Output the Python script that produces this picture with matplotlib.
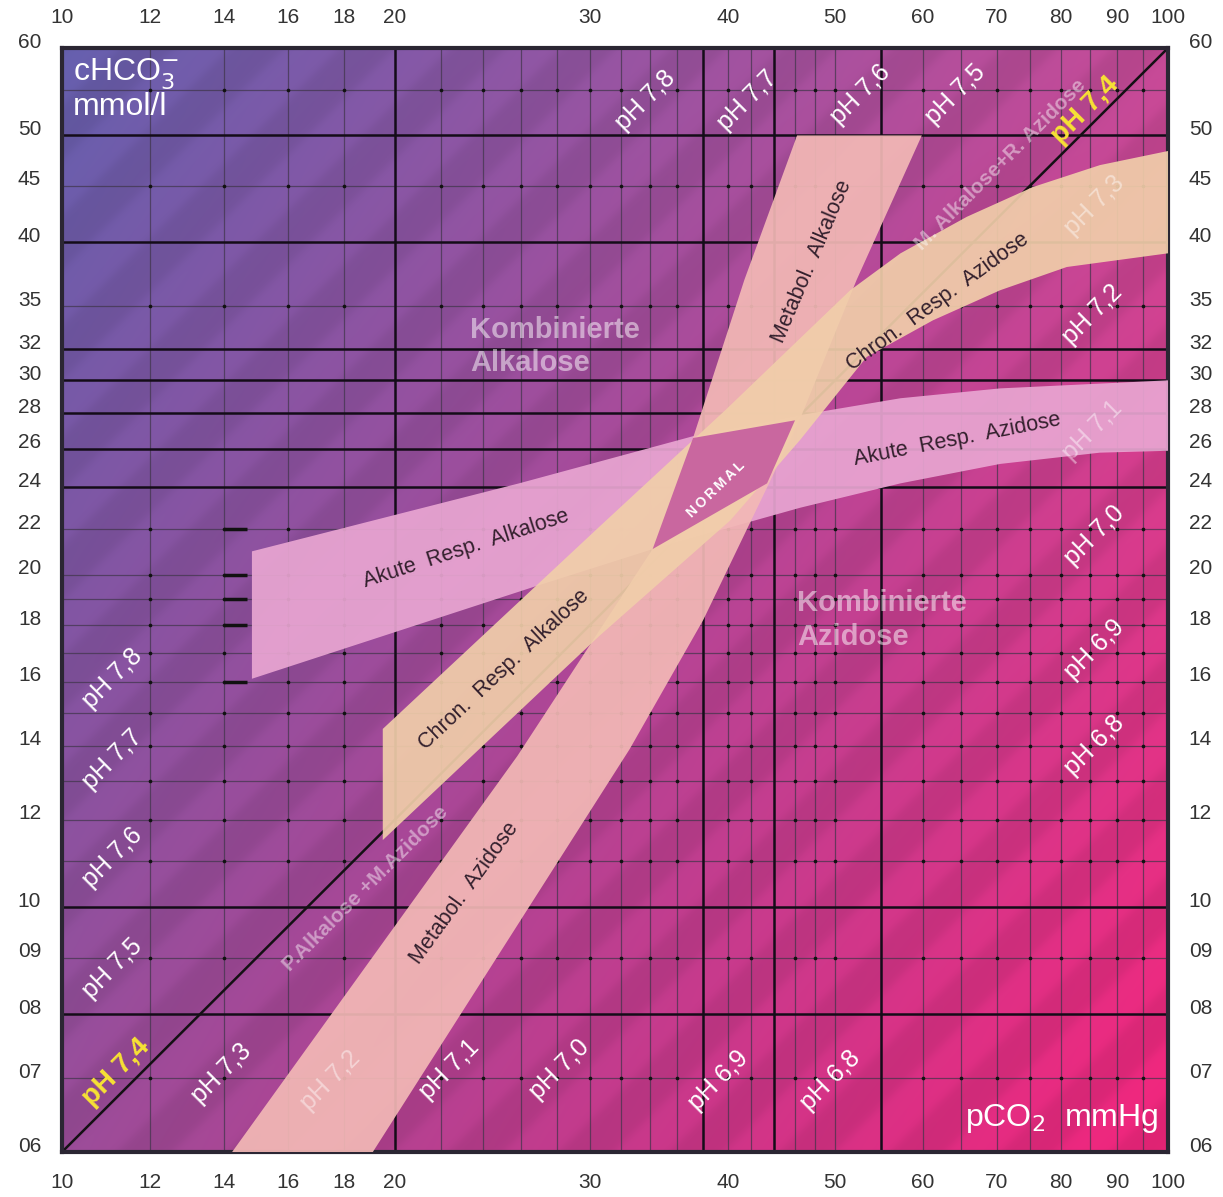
import numpy as np
import matplotlib.pyplot as plt
from matplotlib import transforms

plt.rcParams['font.family'] = ['Liberation Sans Narrow', 'Liberation Sans', 'DejaVu Sans']
plt.rcParams['mathtext.fontset'] = 'custom'
plt.rcParams['mathtext.rm'] = 'Liberation Sans Narrow'
plt.rcParams['mathtext.it'] = 'Liberation Sans Narrow'

# Axis ticks (pCO2 in mmHg, cHCO3 in mmol/l)
x_ticks = [10, 12, 14, 16, 18, 20, 30, 40, 50, 60, 70, 80, 90, 100]
y_ticks = [60, 50, 45, 40, 35, 32, 30, 28, 26, 24, 22, 20, 18, 16, 14, 12, 10, 9, 8, 7, 6]
y_tick_labels = ['60', '50', '45', '40', '35', '32', '30', '28', '26', '24', '22', '20',
                 '18', '16', '14', '12', '10', '09', '08', '07', '06']

# Grid lines
x_grid_thin = [12, 14, 16, 18, 22, 24, 26, 28, 30, 32, 34, 36, 40, 42, 46, 48, 50,
               60, 65, 70, 75, 80, 85, 90, 95]
x_grid_bold = [20, 38, 44, 55]
y_grid_thin = [55, 45, 35, 22, 20, 19, 18, 17, 16, 15, 14, 13, 12, 11, 9, 7]
y_grid_bold = [50, 40, 32, 30, 28, 26, 24, 10, 8]
dash_y = [22, 20, 19, 18, 16]

# pH 7,4 iso line
ph74_x = [10, 100]
ph74_y = [6, 60]

# Acute respiratory band (alkalosis left of normal, acidosis right of it)
acute_up_x = [14.85, 25.9, 37.2, 46.5, 57.3, 70.5, 100]
acute_up_y = [21.0, 24.2, 26.7, 27.9, 28.9, 29.5, 30.0]
acute_lo_x = [14.85, 26.7, 34.2, 46.5, 57.3, 70.5, 86.8, 100]
acute_lo_y = [16.1, 19.5, 21.1, 23.0, 24.2, 25.2, 25.8, 25.9]

# Chronic respiratory band
chron_up_x = [19.5, 30.6, 39.8, 51.6, 57.3, 65.8, 75.5, 86.8, 100]
chron_up_y = [14.5, 22.1, 28.2, 36.2, 39.1, 42.2, 44.9, 47.0, 48.4]
chron_lo_x = [19.5, 30.6, 40.2, 46.5, 53.4, 61.3, 70.5, 81.0, 100]
chron_lo_y = [11.5, 17.6, 22.4, 26.5, 31.5, 34.0, 36.2, 38.0, 39.1]

# Metabolic band
metab_left_x = [14.25, 25.8, 34.2, 37.2, 41.4, 46.2]
metab_left_y = [6.0, 13.7, 21.1, 26.6, 37.0, 50.0]
metab_right_x = [19.1, 32.6, 38.0, 46.5, 52.3, 59.9]
metab_right_y = [6.0, 13.9, 18.2, 27.7, 37.0, 50.0]

# Normal area
normal_x = [37.2, 46.0, 43.4, 34.2]
normal_y = [26.6, 27.6, 24.2, 21.1]

# pH labels: text, pCO2, HCO3
ph_labels = [
    ('pH 7,8', 11.1, 16.1), ('pH 7,7', 11.1, 13.6), ('pH 7,6', 11.1, 11.1),
    ('pH 7,5', 11.1, 8.8),
    ('pH 7,3', 13.95, 7.07), ('pH 7,1', 22.4, 7.12), ('pH 7,0', 28.2, 7.12),
    ('pH 6,9', 39.2, 6.97), ('pH 6,8', 49.5, 6.97),
    ('pH 7,8', 33.7, 53.8), ('pH 7,7', 41.7, 53.8), ('pH 7,6', 52.7, 54.4),
    ('pH 7,5', 64.2, 54.4),
    ('pH 7,2', 85.4, 34.4), ('pH 7,0', 85.9, 21.7), ('pH 6,9', 85.9, 17.1),
    ('pH 6,8', 85.9, 14.0),
]
ph_faint = [('pH 7,3', 85.9, 43.2), ('pH 7,2', 17.5, 6.97), ('pH 7,1', 85.4, 27.0)]
ph74_labels = [('pH 7,4', 11.2, 7.09), ('pH 7,4', 84.1, 52.7)]

# Band captions: text, pCO2, HCO3, angle
band_labels = [
    ('Akute  Resp.  Alkalose', 23.2, 21.1, 18),
    ('Akute  Resp.  Azidose', 64.5, 26.5, 11),
    ('Chron.  Resp.  Alkalose', 25.1, 16.4, 43),
    ('Chron.  Resp.  Azidose', 61.9, 35.3, 36),
    ('Metabol.  Alkalose', 47.7, 38.4, 67),
    ('Metabol.  Azidose', 23.1, 10.3, 54),
]
mixed_labels = [('M. Alkalose+R. Azidose', 70.5, 47.0), ('P.Alkalose +M.Azidose', 18.8, 10.4)]
combined_labels = [('Kombinierte\nAlkalose', 23.4, 32.2), ('Kombinierte\nAzidose', 46.2, 18.2)]

fig = plt.figure(figsize=(12.23, 11.97), dpi=100)
rect = [62 / 1223, 45 / 1197, 1106 / 1223, 1104 / 1197]

# background: blue-violet to magenta wash with soft diagonal pH stripes
ax_bg = fig.add_axes(rect)
H, W = 560, 560
u = np.linspace(0, 1, W)[None, :, None]
v = np.linspace(1, 0, H)[:, None, None]
tl = np.array([98, 92, 168]) / 255
tr = np.array([192, 72, 146]) / 255
bl = np.array([150, 74, 148]) / 255
br = np.array([234, 36, 120]) / 255
rgb = (1 - u) * v * tl + u * v * tr + (1 - u) * (1 - v) * bl + u * (1 - v) * br
ph = 7.4 + (v - u)[..., 0]
frac = ((ph - 7.4) / 0.1) % 1.0
shade = 1 + 0.04 * np.tanh(2.5 * (-np.sin(2 * np.pi * frac)))
rgb = np.clip(rgb * shade[..., None], 0, 1)
ax_bg.imshow(rgb, extent=[0, 1, 0, 1], aspect='auto', interpolation='bilinear')
ax_bg.axis('off')

ax = fig.add_axes(rect)
ax.set_facecolor('none')
ax.set_xscale('log')
ax.set_yscale('log')
ax.set_xlim(10, 100)
ax.set_ylim(6, 60)
ax.set_xticks(x_ticks)
ax.set_xticklabels([str(t) for t in x_ticks])
ax.set_yticks(y_ticks)
ax.set_yticklabels(y_tick_labels)
ax.minorticks_off()
ax.tick_params(length=0, labelsize=15, labelcolor='#333333',
               labeltop=True, labelright=True)
ax.tick_params(axis='x', pad=15)
ax.tick_params(axis='y', pad=15)
# y labels sit a little above their grid lines
shift = transforms.ScaledTranslation(0, 0.08, fig.dpi_scale_trans)
for lab in ax.yaxis.get_majorticklabels():
    lab.set_transform(lab.get_transform() + shift)
for sp in ax.spines.values():
    sp.set_linewidth(3)
    sp.set_color('#2b2633')

# grid
for xv in x_grid_thin:
    ax.axvline(xv, color='#3e3548', lw=0.9, alpha=0.7, zorder=1)
for yv in y_grid_thin:
    ax.axhline(yv, color='#3e3548', lw=0.9, alpha=0.7, zorder=1)
for xv in x_grid_bold:
    ax.axvline(xv, color='#140c18', lw=1.8, zorder=1.2)
for yv in y_grid_bold:
    ax.axhline(yv, color='#140c18', lw=1.8, zorder=1.2)
gx, gy = np.meshgrid(x_grid_thin, y_grid_thin)
ax.scatter(gx.ravel(), gy.ravel(), s=7, color='#111111', lw=0, zorder=1.5)
ax.hlines(dash_y, 14.0, 14.7, color='#111111', lw=2.5, zorder=1.5)

ax.plot(ph74_x, ph74_y, color='#141014', lw=1.8, zorder=2)

# clinical bands
ax.fill(acute_up_x + acute_lo_x[::-1], acute_up_y + acute_lo_y[::-1],
        color='#e9a6d2', alpha=0.92, lw=0, zorder=3)
ax.fill(metab_left_x + metab_right_x[::-1], metab_left_y + metab_right_y[::-1],
        color='#f3b9b6', alpha=0.92, lw=0, zorder=3.2)
ax.fill(chron_up_x + chron_lo_x[::-1], chron_up_y + chron_lo_y[::-1],
        color='#f1ceaa', alpha=0.92, lw=0, zorder=3.4)
ax.fill(normal_x, normal_y, color='#c9679f', lw=0, zorder=3.6)

# text
for s, x, y in ph_labels:
    ax.text(x, y, s, color='white', fontsize=18, rotation=45,
            ha='center', va='center', rotation_mode='anchor', zorder=5)
for s, x, y in ph_faint:
    ax.text(x, y, s, color='white', alpha=0.45, fontsize=18, rotation=45,
            ha='center', va='center', rotation_mode='anchor', zorder=5)
for s, x, y in ph74_labels:
    ax.text(x, y, s, color='#f7e234', fontsize=20, fontweight='bold', rotation=45,
            ha='center', va='center', rotation_mode='anchor', zorder=5)
for s, x, y, a in band_labels:
    ax.text(x, y, s, color='#33202d', fontsize=15.5, rotation=a,
            ha='center', va='center', rotation_mode='anchor', zorder=5)
for s, x, y in mixed_labels:
    ax.text(x, y, s, color='white', alpha=0.45, fontsize=15, fontweight='bold',
            rotation=45, ha='center', va='center', rotation_mode='anchor', zorder=5)
for s, x, y in combined_labels:
    ax.text(x, y, s, color='white', alpha=0.5, fontsize=21, fontweight='bold',
            ha='left', va='center', linespacing=1.25, zorder=5)
ax.text(39.0, 23.9, 'N\u2009O\u2009R\u2009M\u2009A\u2009L', color='white', fontsize=10,
        fontweight='bold', rotation=44, ha='center', va='center',
        rotation_mode='anchor', zorder=6)

ax.text(0.01, 0.993, 'cHCO$_3^{-}$\nmmol/l', transform=ax.transAxes, color='white',
        fontsize=23, ha='left', va='top', linespacing=1.05, zorder=6)
ax.text(0.991, 0.015, 'pCO$_2$  mmHg', transform=ax.transAxes, color='white',
        fontsize=23, ha='right', va='bottom', zorder=6)

fig.savefig('out.png', dpi=100)
